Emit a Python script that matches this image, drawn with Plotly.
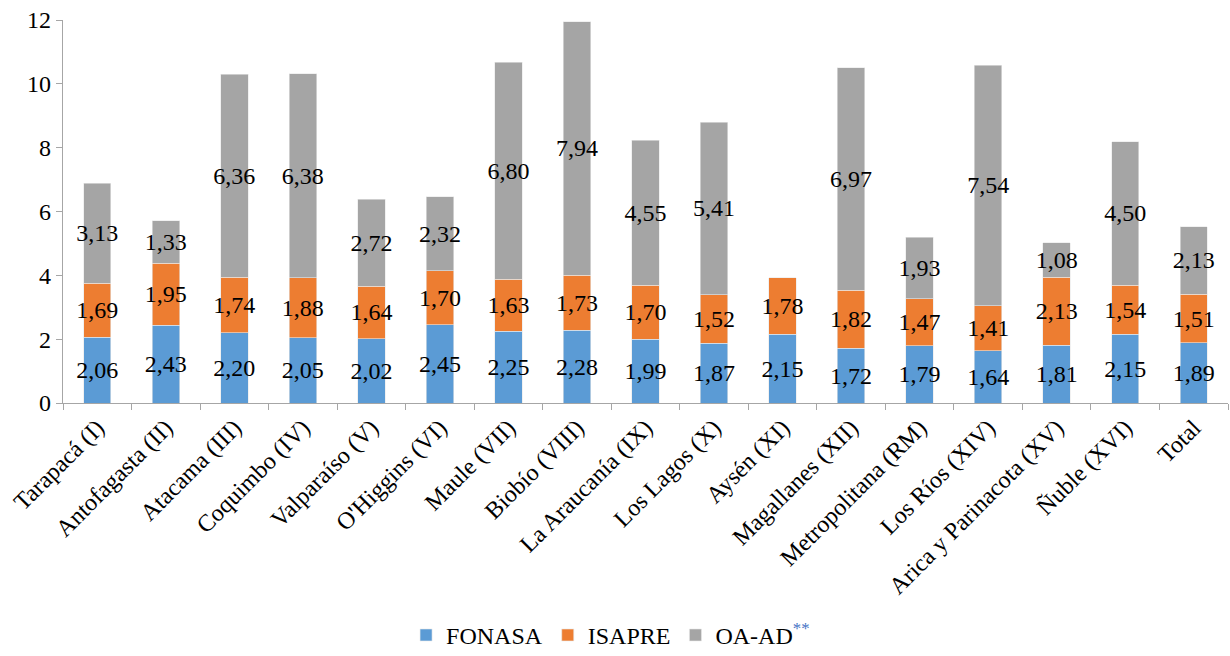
import plotly.graph_objects as go

regiones = ["Tarapacá (I)", "Antofagasta (II)", "Atacama (III)", "Coquimbo (IV)",
            "Valparaíso (V)", "O'Higgins (VI)", "Maule (VII)", "Biobío (VIII)",
            "La Araucanía (IX)", "Los Lagos (X)", "Aysén (XI)", "Magallanes (XII)",
            "Metropolitana (RM)", "Los Ríos (XIV)", "Arica y Parinacota (XV)",
            "Ñuble (XVI)", "Total"]

fonasa = [2.06, 2.43, 2.20, 2.05, 2.02, 2.45, 2.25, 2.28, 1.99, 1.87, 2.15,
          1.72, 1.79, 1.64, 1.81, 2.15, 1.89]
isapre = [1.69, 1.95, 1.74, 1.88, 1.64, 1.70, 1.63, 1.73, 1.70, 1.52, 1.78,
          1.82, 1.47, 1.41, 2.13, 1.54, 1.51]
oa_ad = [3.13, 1.33, 6.36, 6.38, 2.72, 2.32, 6.80, 7.94, 4.55, 5.41, None,
         6.97, 1.93, 7.54, 1.08, 4.50, 2.13]

y_ticks = [0, 2, 4, 6, 8, 10, 12]

FONT = "Liberation Serif"


def etiquetas(vals):
    return [" " if v is None else f"{v:.2f}".replace(".", ",") for v in vals]


series = [
    ("FONASA", fonasa, "#5B9BD5"),
    ("ISAPRE", isapre, "#ED7D31"),
    ("OA-AD<sup><span style='color:#4472C4'>**</span></sup>", oa_ad, "#A5A5A5"),
]

fig = go.Figure()
for nombre, vals, color in series:
    fig.add_trace(go.Bar(
        x=regiones, y=vals, name=nombre,
        marker=dict(color=color, line=dict(color="#E8E8E8", width=0.6)),
        text=etiquetas(vals), textposition="inside",
        insidetextanchor="middle", constraintext="none",
        textangle=0,
        textfont=dict(family=FONT, size=24, color="black"),
        hoverinfo="skip",
    ))

fig.update_layout(
    barmode="stack",
    bargap=0.6,
    width=1230, height=656,
    margin=dict(l=63, r=2, t=20, b=253, autoexpand=False),
    paper_bgcolor="white", plot_bgcolor="white",
    font=dict(family=FONT, size=24, color="black"),
    legend=dict(orientation="h", x=0.47, xanchor="center",
                y=-0.548, yanchor="top",
                font=dict(family=FONT, size=24, color="black"),
                itemwidth=30, traceorder="normal"),
    showlegend=True,
)

fig.update_xaxes(
    showline=True, linecolor="#A6A6A6", linewidth=1.3,
    ticks="outside", tickson="boundaries", ticklen=6, tickcolor="#A6A6A6",
    tickangle=-45, tickfont=dict(family=FONT, size=24, color="black"),
    showgrid=False, automargin=False,
)
fig.update_yaxes(
    range=[0, 12], tickvals=y_ticks, ticktext=[str(t) for t in y_ticks],
    showline=True, linecolor="#A6A6A6", linewidth=1.3,
    ticks="outside", ticklen=6, tickcolor="#A6A6A6",
    tickfont=dict(family=FONT, size=24, color="black"),
    showgrid=False, zeroline=False, automargin=False,
)

fig.write_html("out.html")
